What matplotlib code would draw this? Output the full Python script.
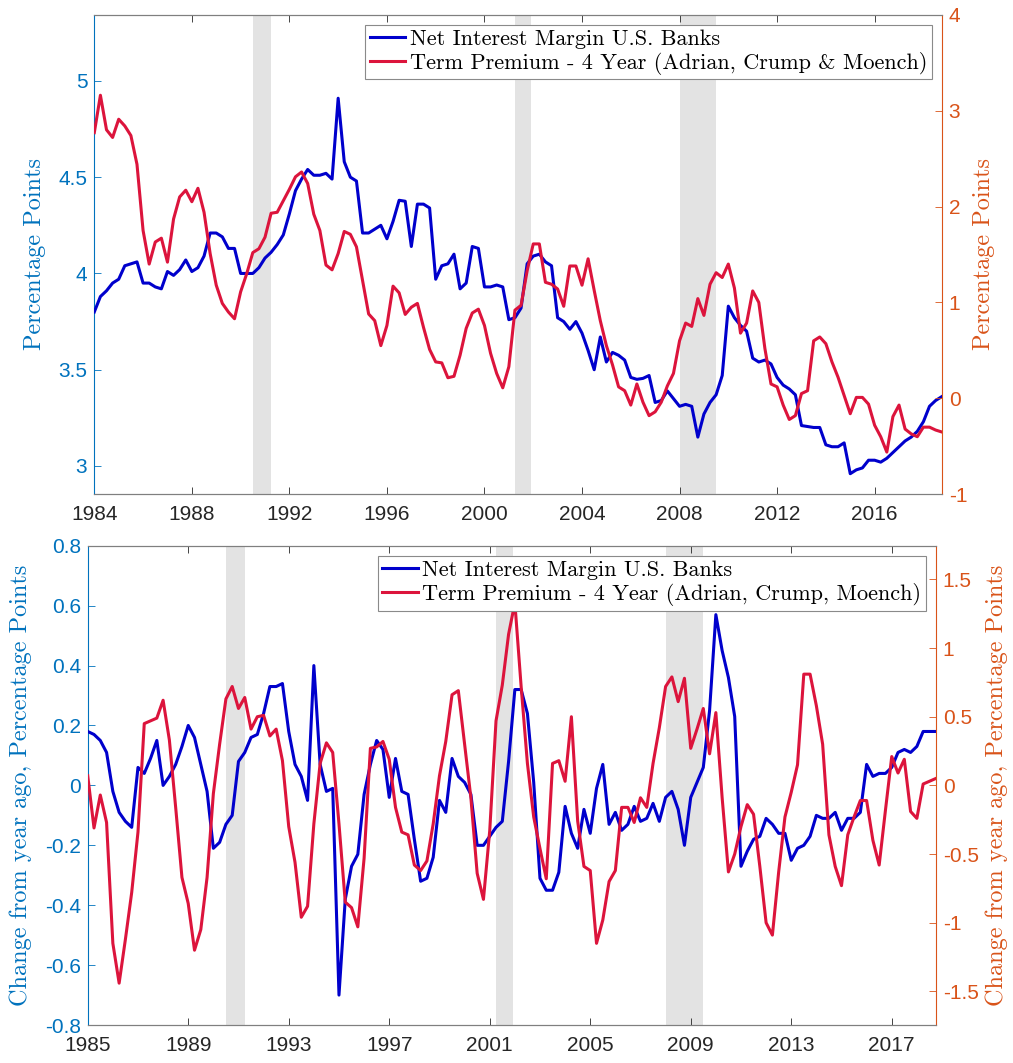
import numpy as np
import matplotlib
matplotlib.use("Agg")
import matplotlib.pyplot as plt
from matplotlib.lines import Line2D

plt.rcParams['axes.unicode_minus'] = False

# quarterly levels, 1984Q1 - 2018Q4
start_level = 1984
nim_level = [
    3.80, 3.88, 3.91, 3.95, 3.97, 4.04, 4.05, 4.06,
    3.95, 3.95, 3.93, 3.92, 4.01, 3.99, 4.02, 4.07,
    4.01, 4.03, 4.09, 4.21, 4.21, 4.19, 4.13, 4.13,
    4.00, 4.00, 4.00, 4.03, 4.08, 4.11, 4.15, 4.20,
    4.31, 4.43, 4.49, 4.54, 4.51, 4.51, 4.52, 4.49,
    4.91, 4.58, 4.50, 4.48, 4.21, 4.21, 4.23, 4.25,
    4.18, 4.27, 4.38, 4.375, 4.14, 4.36, 4.36, 4.34,
    3.97, 4.04, 4.05, 4.10, 3.92, 3.95, 4.14, 4.13,
    3.93, 3.93, 3.94, 3.93, 3.76, 3.77, 3.82, 4.05,
    4.09, 4.10, 4.06, 4.04, 3.77, 3.75, 3.71, 3.75,
    3.69, 3.60, 3.50, 3.67, 3.54, 3.59, 3.575, 3.55,
    3.46, 3.45, 3.455, 3.47, 3.33, 3.34, 3.39, 3.35,
    3.31, 3.32, 3.31, 3.15, 3.27, 3.33, 3.37, 3.47,
    3.83, 3.77, 3.73, 3.70, 3.56, 3.54, 3.55, 3.53,
    3.46, 3.42, 3.40, 3.37, 3.21, 3.205, 3.20, 3.20,
    3.11, 3.10, 3.10, 3.12, 2.96, 2.98, 2.99, 3.03,
    3.03, 3.02, 3.04, 3.07, 3.10, 3.13, 3.15, 3.18,
    3.23, 3.31, 3.34, 3.36,
]
tp_level = [
    2.77, 3.16, 2.80, 2.72, 2.91, 2.84, 2.74, 2.44,
    1.75, 1.40, 1.63, 1.67, 1.42, 1.87, 2.10, 2.17,
    2.05, 2.19, 1.94, 1.51, 1.18, 0.99, 0.90, 0.83,
    1.11, 1.30, 1.52, 1.56, 1.68, 1.93, 1.94, 2.06,
    2.18, 2.31, 2.36, 2.24, 1.92, 1.75, 1.39, 1.34,
    1.51, 1.74, 1.71, 1.58, 1.23, 0.88, 0.81, 0.55,
    0.76, 1.17, 1.10, 0.875, 0.95, 0.99, 0.74, 0.51,
    0.38, 0.37, 0.215, 0.23, 0.45, 0.73, 0.89, 0.93,
    0.76, 0.47, 0.26, 0.11, 0.33, 0.92, 0.97, 1.33,
    1.61, 1.61, 1.21, 1.19, 1.14, 0.96, 1.38, 1.38,
    1.18, 1.455, 1.125, 0.81, 0.55, 0.35, 0.12, 0.08,
    -0.07, 0.15, -0.04, -0.18, -0.14, -0.04, 0.13, 0.26,
    0.60, 0.785, 0.75, 1.04, 0.865, 1.19, 1.31, 1.26,
    1.40, 1.15, 0.68, 0.785, 1.12, 1.00, 0.52, 0.15,
    0.12, -0.07, -0.22, -0.18, 0.05, 0.08, 0.60, 0.64,
    0.57, 0.38, 0.22, 0.03, -0.16, 0.01, 0.01, -0.06,
    -0.28, -0.40, -0.56, -0.19, -0.07, -0.32, -0.37, -0.40,
    -0.30, -0.30, -0.33, -0.35,
]

# year-over-year changes, 1985Q1 - 2018Q4
start_chg = 1985
nim_chg = [
    0.18, 0.17, 0.15, 0.11, -0.02, -0.09, -0.12, -0.14,
    0.06, 0.04, 0.09, 0.15, 0.00, 0.03, 0.07, 0.13,
    0.20, 0.16, 0.07, -0.02, -0.21, -0.19, -0.13, -0.10,
    0.08, 0.11, 0.16, 0.17, 0.24, 0.33, 0.33, 0.34,
    0.18, 0.07, 0.03, -0.05, 0.40, 0.07, -0.02, -0.01,
    -0.70, -0.38, -0.27, -0.23, -0.03, 0.07, 0.15, 0.12,
    -0.04, 0.09, -0.02, -0.03, -0.18, -0.32, -0.31, -0.24,
    -0.05, -0.09, 0.09, 0.03, 0.01, -0.03, -0.20, -0.20,
    -0.17, -0.14, -0.12, 0.08, 0.32, 0.32, 0.24, 0.01,
    -0.31, -0.35, -0.35, -0.29, -0.07, -0.16, -0.21, -0.08,
    -0.16, -0.01, 0.07, -0.13, -0.09, -0.15, -0.13, -0.07,
    -0.12, -0.11, -0.06, -0.12, -0.04, -0.02, -0.08, -0.20,
    -0.04, 0.01, 0.06, 0.25, 0.57, 0.45, 0.36, 0.23,
    -0.27, -0.22, -0.18, -0.17, -0.11, -0.13, -0.16, -0.16,
    -0.25, -0.21, -0.20, -0.17, -0.10, -0.11, -0.11, -0.09,
    -0.15, -0.11, -0.11, -0.09, 0.07, 0.03, 0.04, 0.04,
    0.06, 0.11, 0.12, 0.11, 0.13, 0.18, 0.18, 0.18,
]
tp_chg = [
    0.07, -0.31, -0.07, -0.27, -1.15, -1.44, -1.12, -0.78,
    -0.34, 0.45, 0.47, 0.49, 0.62, 0.33, -0.16, -0.67,
    -0.86, -1.20, -1.05, -0.67, -0.06, 0.30, 0.63, 0.72,
    0.56, 0.64, 0.41, 0.50, 0.51, 0.36, 0.41, 0.18,
    -0.30, -0.56, -0.96, -0.88, -0.28, 0.16, 0.31, 0.24,
    -0.28, -0.85, -0.89, -1.03, -0.53, 0.27, 0.28, 0.32,
    0.19, -0.16, -0.34, -0.36, -0.58, -0.62, -0.55, -0.28,
    0.07, 0.32, 0.66, 0.69, 0.30, -0.09, -0.64, -0.83,
    -0.33, 0.47, 0.73, 1.10, 1.33, 0.72, 0.16, -0.23,
    -0.46, -0.68, 0.16, 0.18, 0.03, 0.50, -0.26, -0.59,
    -0.62, -1.15, -0.98, -0.70, -0.62, -0.16, -0.16, -0.27,
    -0.09, -0.16, 0.16, 0.42, 0.72, 0.79, 0.61, 0.78,
    0.27, 0.41, 0.56, 0.23, 0.53, -0.09, -0.63, -0.50,
    -0.30, -0.14, -0.21, -0.59, -1.00, -1.09, -0.63, -0.23,
    -0.05, 0.15, 0.81, 0.81, 0.58, 0.30, -0.36, -0.59,
    -0.73, -0.36, -0.23, -0.11, -0.11, -0.40, -0.58, -0.18,
    0.21, 0.09, 0.19, -0.19, -0.24, 0.01, 0.03, 0.05,
]

recessions = [(1990.5, 1991.25), (2001.25, 2001.92), (2008.0, 2009.5)]

top_xticks = [1984, 1988, 1992, 1996, 2000, 2004, 2008, 2012, 2016]
bot_xticks = [1985, 1989, 1993, 1997, 2001, 2005, 2009, 2013, 2017]
top_left_ticks = [3, 3.5, 4, 4.5, 5]
top_right_ticks = [-1, 0, 1, 2, 3, 4]
bot_left_ticks = [-0.8, -0.6, -0.4, -0.2, 0, 0.2, 0.4, 0.6, 0.8]
bot_right_ticks = [-1.5, -1, -0.5, 0, 0.5, 1, 1.5]

BLUE = '#0000CC'
RED = '#DC143C'
LCOL = '#0072BD'
RCOL = '#D95319'
GRAY = '#262626'
TICKFONT = 'Liberation Sans'
SERIF = 'cmr10'


def fmt(v):
    return ('%g' % v)


def setup_panel(rect, xlim, xticks, lticks, rticks, llim, rlim, llabel, rlabel, lpos, rpos):
    ax = fig.add_axes(rect)
    ax2 = ax.twinx()
    for a, b in recessions:
        ax.axvspan(a, b, color='#E3E3E3', lw=0, zorder=0)
    ax.set_xlim(*xlim)
    ax.set_ylim(*llim)
    ax2.set_ylim(*rlim)
    ax.set_xticks(xticks)
    ax.set_xticklabels([str(t) for t in xticks], fontfamily=TICKFONT, fontsize=15, color=GRAY)
    ax.set_yticks(lticks)
    ax.set_yticklabels([fmt(t) for t in lticks], fontfamily=TICKFONT, fontsize=15, color=LCOL)
    ax2.set_yticks(rticks)
    ax2.set_yticklabels([fmt(t) for t in rticks], fontfamily=TICKFONT, fontsize=15, color=RCOL)
    ax.tick_params(axis='x', direction='in', top=True, length=5, width=0.6, color=GRAY, pad=8)
    ax.tick_params(axis='y', direction='in', length=5, width=0.6, color=LCOL, pad=5)
    ax2.tick_params(axis='y', direction='in', length=5, width=0.6, color=RCOL, pad=5)
    for a in (ax, ax2):
        a.spines['top'].set_color('#7F7F7F')
        a.spines['bottom'].set_color('#7F7F7F')
        a.spines['top'].set_linewidth(0.8)
        a.spines['bottom'].set_linewidth(0.8)
    ax.spines['left'].set_color(LCOL)
    ax.spines['left'].set_linewidth(0.8)
    ax.spines['right'].set_visible(False)
    ax2.spines['left'].set_visible(False)
    ax2.spines['right'].set_color(RCOL)
    ax2.spines['right'].set_linewidth(0.8)
    ax.set_ylabel(llabel, fontfamily=SERIF, fontsize=17.5, color=LCOL)
    ax.yaxis.set_label_coords(lpos, 0.5)
    ax2.set_ylabel(rlabel, fontfamily=SERIF, fontsize=17.5, color=RCOL)
    ax2.yaxis.set_label_coords(rpos, 0.5)
    return ax, ax2


fig = plt.figure(figsize=(10.13, 10.63), dpi=100)

# top panel: levels
t_level = start_level + np.arange(len(nim_level)) / 4
ax1, ax1r = setup_panel([0.0931, 0.535, 0.8365, 0.4512], (1984, 2018.75), top_xticks,
                        top_left_ticks, top_right_ticks, (2.853, 5.344), (-1, 4),
                        'Percentage Points', 'Percentage Points', -0.057, 1.037)
ax1.plot(t_level, nim_level, color=BLUE, lw=2.2, zorder=3)
ax1r.plot(t_level, tp_level, color=RED, lw=2.2, zorder=2)
handles = [Line2D([], [], color=BLUE, lw=2.2), Line2D([], [], color=RED, lw=2.2)]
leg = ax1r.legend(handles, ['Net Interest Margin U.S. Banks',
                            'Term Premium - 4 Year (Adrian, Crump & Moench)'],
                  loc='upper right', prop={'family': SERIF, 'size': 16},
                  fancybox=False, framealpha=1, edgecolor='#8A8A8A',
                  borderaxespad=0.45, handlelength=1.6, handletextpad=0.2,
                  borderpad=0.2, labelspacing=0.15)
leg.get_frame().set_linewidth(0.8)

# bottom panel: year-over-year changes
t_chg = start_chg + np.arange(len(nim_chg)) / 4
ax2, ax2r = setup_panel([0.0866, 0.0357, 0.8371, 0.4509], (1985, 2018.75), bot_xticks,
                        bot_left_ticks, bot_right_ticks, (-0.8, 0.8), (-1.745, 1.745),
                        'Change from year ago, Percentage Points',
                        'Change from year ago, Percentage Points', -0.066, 1.059)
ax2.plot(t_chg, nim_chg, color=BLUE, lw=2.2, zorder=3)
ax2r.plot(t_chg, tp_chg, color=RED, lw=2.2, zorder=2)
leg2 = ax2r.legend(handles, ['Net Interest Margin U.S. Banks',
                             'Term Premium - 4 Year (Adrian, Crump, Moench)'],
                   loc='upper right', prop={'family': SERIF, 'size': 16},
                   fancybox=False, framealpha=1, edgecolor='#8A8A8A',
                   borderaxespad=0.45, handlelength=1.6, handletextpad=0.2,
                   borderpad=0.2, labelspacing=0.15)
leg2.get_frame().set_linewidth(0.8)

fig.savefig('out.png', dpi=100)
